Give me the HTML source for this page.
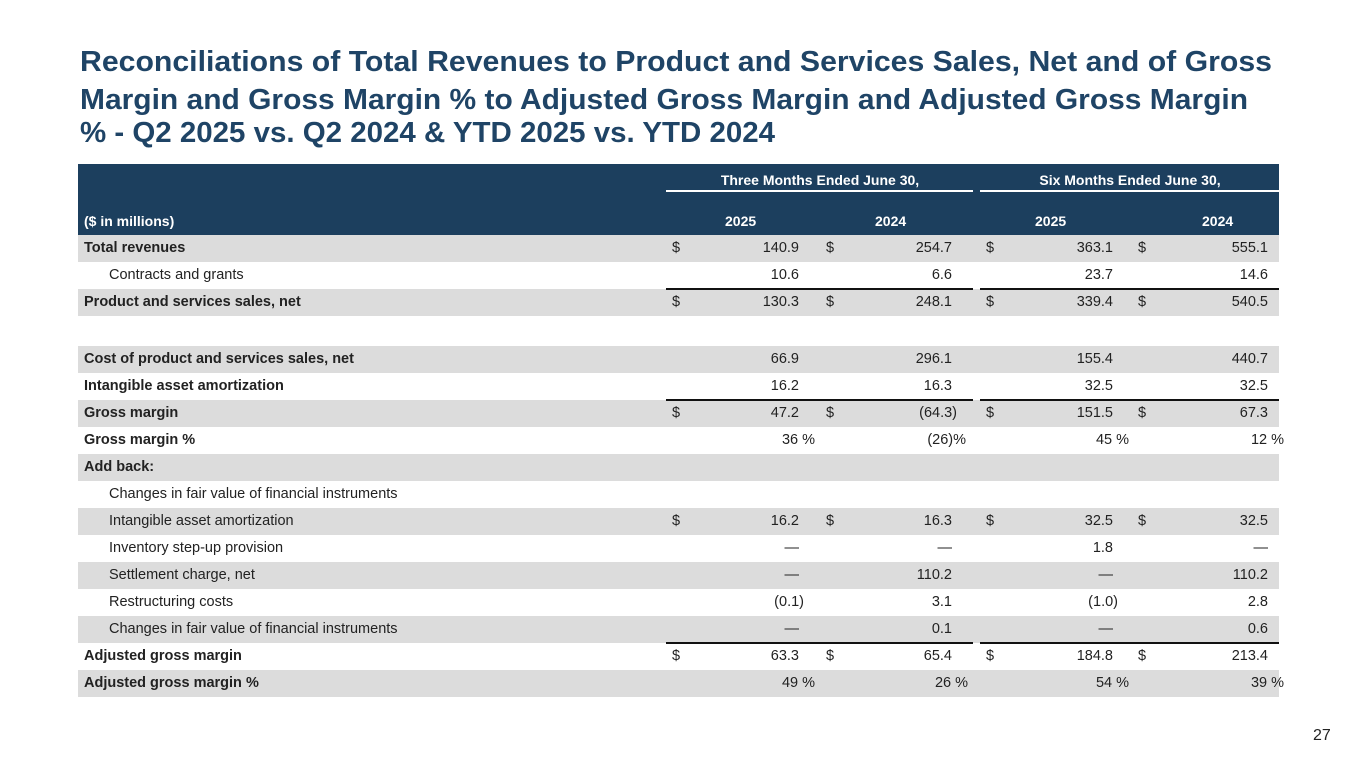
<!DOCTYPE html>
<html><head><meta charset="utf-8">
<style>
body{margin:0;width:1365px;height:768px;background:#fff;position:relative;overflow:hidden;font-family:"Liberation Sans",sans-serif;color:#222}
.t{position:absolute;left:80px;font-weight:bold;color:#1f4466;font-size:29px;white-space:nowrap;transform-origin:0 0;line-height:1}
.a{position:absolute;white-space:nowrap;font-size:14.5px;line-height:27px}
.row{position:absolute;left:78px;width:1201px;height:27px}
.hd{position:absolute;left:78px;top:164px;width:1201px;height:71px;background:#1c3f5e}
.hw{position:absolute;color:#fff;font-weight:bold;font-size:14px;white-space:nowrap}
.ln{position:absolute;height:2px;background:#111}
</style></head><body>
<div class="t" style="top:48px" data-w="1192">Reconciliations of Total Revenues to Product and Services Sales, Net and of Gross</div>
<div class="t" style="top:86px" data-w="1168">Margin and Gross Margin % to Adjusted Gross Margin and Adjusted Gross Margin</div>
<div class="t" style="top:119px" data-w="695">% - Q2 2025 vs. Q2 2024 &amp; YTD 2025 vs. YTD 2024</div>
<div class="hd">
  <div class="hw" style="left:592px;top:8px;width:300px;text-align:center">Three Months Ended June 30,</div>
  <div class="hw" style="left:902px;top:8px;width:300px;text-align:center">Six Months Ended June 30,</div>
  <div style="position:absolute;left:588px;top:26px;width:307px;height:2px;background:#fff"></div>
  <div style="position:absolute;left:902px;top:26px;width:299px;height:2px;background:#fff"></div>
  <div class="hw" style="left:6px;top:49px">($ in millions)</div>
  <div class="hw" style="left:647px;top:49px">2025</div>
  <div class="hw" style="left:797px;top:49px">2024</div>
  <div class="hw" style="left:957px;top:49px">2025</div>
  <div class="hw" style="left:1124px;top:49px">2024</div>
</div>
<div id="tbl"></div>
<div class="a" style="left:1313px;top:722px;font-size:16px">27</div>
<script>
const labels=["Total revenues","Contracts and grants","Product and services sales, net","","Cost of product and services sales, net","Intangible asset amortization","Gross margin","Gross margin %","Add back:","Changes in fair value of financial instruments","Intangible asset amortization","Inventory step-up provision","Settlement charge, net","Restructuring costs","Changes in fair value of financial instruments","Adjusted gross margin","Adjusted gross margin %"];
const bold=[1,0,1,0,1,1,1,1,1,0,0,0,0,0,0,1,1];
const dollar=[1,0,1,0,0,0,1,0,0,0,1,0,0,0,0,1,0];
const pct=[0,0,0,0,0,0,0,1,0,0,0,0,0,0,0,0,1];
const q25=["140.9","10.6","130.3","","66.9","16.2","47.2","36","","","16.2","—","—","(0.1)","—","63.3","49"];
const q24=["254.7","6.6","248.1","","296.1","16.3","(64.3)","(26)","","","16.3","—","110.2","3.1","0.1","65.4","26"];
const y25=["363.1","23.7","339.4","","155.4","32.5","151.5","45","","","32.5","1.8","—","(1.0)","—","184.8","54"];
const y24=["555.1","14.6","540.5","","440.7","32.5","67.3","12","","","32.5","—","110.2","2.8","0.6","213.4","39"];
const lineAbove=[0,0,1,0,0,0,1,0,0,0,0,0,0,0,0,1,0];
const grey=[1,0,1,0,1,0,1,0,1,0,1,0,1,0,1,0,1];
const cols=[q25,q24,y25,y24];
const rightX=[799,952,1113,1268], dX=[672,826,986,1138];
const segs=[[666,973],[980,1279]];
const tbl=document.getElementById('tbl');
let yy=235;
labels.forEach((lab,i)=>{
  const h=(i===3)?30:27;
  const r=document.createElement('div');
  r.className='row';
  
  
  r.style.top=yy+'px';r.style.height=h+'px';
  if(grey[i]) r.style.background='#dcdcdc';
  tbl.appendChild(r);
  if(lab){
    const l=document.createElement('div');
    l.className='a';
    
    
    l.textContent=lab;
    l.style.left=(bold[i]?84:109)+'px';l.style.top=yy+'px';
    if(bold[i]) l.style.fontWeight='bold';
    tbl.appendChild(l);
  }
  cols.forEach((c,k)=>{
    const v=c[i]; if(!v) return;
    const d=document.createElement('div');
    d.className='a';
    
    
    let txt=v, rx=rightX[k];
    if(pct[i]){ if(v.startsWith('(')){txt=v+'%';rx+=14;} else {txt=v+' %';rx+=16;} }
    else if(v.endsWith(')')) rx+=5;
    d.textContent=txt;
    d.style.right=(1365-rx)+'px';d.style.top=yy+'px';
    tbl.appendChild(d);
    if(dollar[i]){
      const s=document.createElement('div');
      s.className='a';
      
      
      s.textContent='$';
      s.style.left=dX[k]+'px';s.style.top=yy+'px';
      tbl.appendChild(s);
    }
  });
  if(lineAbove[i]) segs.forEach(sg=>{
    const ln=document.createElement('div');
    ln.className='ln';
    
    
    ln.style.left=sg[0]+'px';ln.style.width=(sg[1]-sg[0])+'px';ln.style.top=(yy-1)+'px';
    tbl.appendChild(ln);
  });
  yy+=h;
});
document.querySelectorAll('.t').forEach(e=>{
  const w=e.getBoundingClientRect().width;
  e.style.transform='scaleX('+(+e.dataset.w/w)+')';
});
</script>
</body></html>
